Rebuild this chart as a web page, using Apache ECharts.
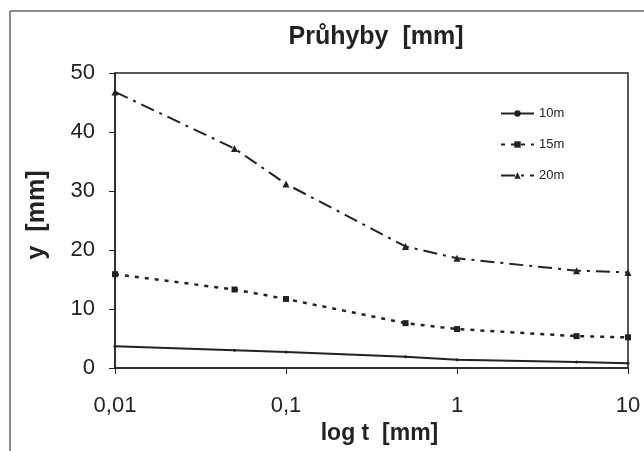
<!DOCTYPE html>
<html><head><meta charset="utf-8">
<script src="https://cdn.jsdelivr.net/npm/echarts@6/dist/echarts.min.js"></script>
<style>html,body{margin:0;padding:0;background:#fff}#c{width:644px;height:451px}</style>
</head><body><div id="c"></div>
<script>
var tValues = [0.01, 0.05, 0.1, 0.5, 1, 5, 10];
var s10m = [3.7, 3.0, 2.7, 1.9, 1.4, 1.0, 0.8];
var s15m = [15.9, 13.3, 11.7, 7.6, 6.6, 5.4, 5.2];
var s20m = [46.8, 37.2, 31.2, 20.6, 18.6, 16.5, 16.2];
var seriesNames = ['10m', '15m', '20m'];
var yTicks = [0, 10, 20, 30, 40, 50];

function pairs(arr){ return tValues.map(function(t,i){ return [t, arr[i]]; }); }
var ink = '#222';
var chart = echarts.init(document.getElementById('c'), null, {renderer:'canvas'});
chart.setOption({
  backgroundColor:'#fff',
  animation:false,
  title:{text:'Průhyby  [mm]', left:371, textAlign:'center', top:20,
    textStyle:{fontFamily:'Liberation Sans', fontWeight:'bold', fontSize:25, color:ink}},
  graphic:[
    {type:'line', shape:{x1:10,y1:11,x2:644,y2:11}, style:{stroke:'#666', lineWidth:1.5}},
    {type:'line', shape:{x1:10,y1:11,x2:10,y2:451}, style:{stroke:'#666', lineWidth:1.5}}
  ],
  legend:{orient:'vertical', left:500, top:107, padding:0, itemGap:18, itemWidth:33, itemHeight:8,
    data:seriesNames,
    textStyle:{fontFamily:'Liberation Sans', fontSize:13, color:ink}},
  grid:{left:115, right:16, top:73, bottom:83, show:true, borderColor:ink, borderWidth:1.5},
  xAxis:{type:'log', logBase:10, min:0.01, max:10,
    name:'log t  [mm]', nameLocation:'middle', nameGap:51,
    nameTextStyle:{fontFamily:'Liberation Sans', fontWeight:'bold', fontSize:23, color:ink,
      padding:[0,0,0,16]},
    axisLine:{lineStyle:{color:ink, width:1.5}},
    axisTick:{show:true, inside:false, length:6, lineStyle:{color:ink}},
    minorTick:{show:false},
    splitLine:{show:false},
    axisLabel:{margin:27, fontFamily:'Liberation Sans', fontSize:22, color:ink,
      formatter:function(v){ var r=Math.round(v*1000)/1000; return String(r).replace('.',','); }}
  },
  yAxis:{type:'value', min:0, max:50, interval:10,
    name:'y  [mm]', nameLocation:'middle', nameGap:65, nameRotate:90,
    nameTextStyle:{fontFamily:'Liberation Sans', fontWeight:'bold', fontSize:25, color:ink,
      padding:[0,0,0,11]},
    axisLine:{show:true, lineStyle:{color:ink, width:1.5}},
    axisTick:{show:true, inside:false, length:6, lineStyle:{color:ink}},
    splitLine:{show:false},
    axisLabel:{margin:20, fontFamily:'Liberation Sans', fontSize:22, color:ink,
      formatter:function(v){ return yTicks.indexOf(v)>=0 ? String(v) : ''; }}
  },
  series:[
    {name:seriesNames[0], type:'line', data:pairs(s10m), symbol:'circle', symbolSize:3,
      lineStyle:{color:ink, width:2, type:'solid'}, itemStyle:{color:ink}},
    {name:seriesNames[1], type:'line', data:pairs(s15m), symbol:'rect', symbolSize:6,
      lineStyle:{color:ink, width:2.5, type:[4,6]}, itemStyle:{color:ink}},
    {name:seriesNames[2], type:'line', data:pairs(s20m), symbol:'triangle', symbolSize:7,
      lineStyle:{color:ink, width:2, type:[14,6,3,6]}, itemStyle:{color:ink}}
  ]
});
</script></body></html>
